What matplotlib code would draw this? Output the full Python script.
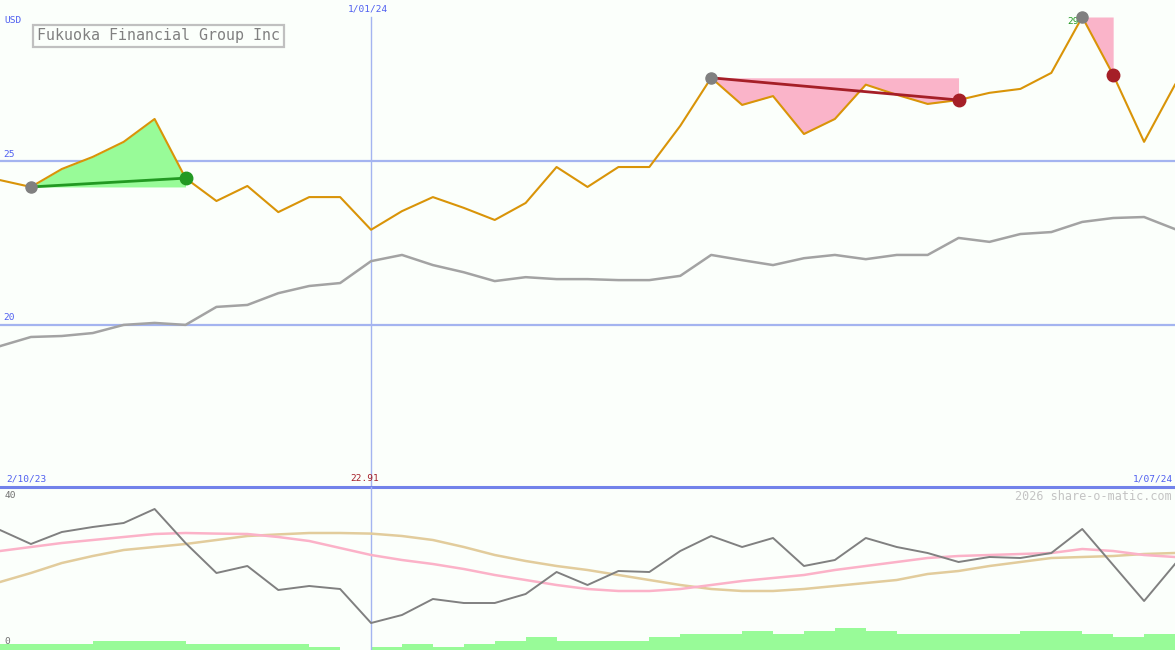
import numpy as np
import matplotlib
matplotlib.use("Agg")
import matplotlib.pyplot as plt

# weekly closing price (USD) and its moving average
price = [24.43, 24.22, 24.77, 25.14, 25.60, 26.30, 24.49, 23.79, 24.25, 23.45,
         23.91, 23.91, 22.91, 23.48, 23.91, 23.58, 23.21, 23.73, 24.83, 24.22,
         24.83, 24.83, 26.09, 27.56, 26.73, 27.00, 25.84, 26.30, 27.35, 27.04,
         26.76, 26.88, 27.10, 27.22, 27.71, 29.42, 27.65, 25.60, 27.35]
avg = [19.35, 19.63, 19.66, 19.75, 20.00, 20.06, 20.00, 20.55, 20.61, 20.97,
       21.19, 21.28, 21.95, 22.14, 21.83, 21.61, 21.34, 21.46, 21.40, 21.40,
       21.37, 21.37, 21.50, 22.14, 21.98, 21.83, 22.04, 22.14, 22.01, 22.14,
       22.14, 22.66, 22.54, 22.78, 22.84, 23.15, 23.27, 23.30, 22.93]

# lower panel: oscillator and two smoothed lines
osc = [30, 26.5, 29.5, 30.75, 31.75, 35.25, 26.75, 19.25, 21, 15,
       16, 15.25, 6.75, 8.75, 12.75, 11.75, 11.75, 14, 19.5, 16.25,
       19.75, 19.5, 24.75, 28.5, 25.75, 28, 21, 22.5, 28, 25.75,
       24.25, 22, 23.25, 23, 24.25, 30.25, 21.25, 12.25, 21.5]
osc_fast = [24.75, 25.75, 26.75, 27.5, 28.25, 29, 29.25, 29.1, 29, 28.25,
            27.25, 25.5, 23.75, 22.5, 21.5, 20.25, 18.75, 17.5, 16.25, 15.25,
            14.75, 14.75, 15.25, 16.25, 17.25, 18, 18.75, 20, 21, 22,
            23, 23.5, 23.75, 24, 24.25, 25.25, 24.75, 23.75, 23.25]
osc_slow = [17, 19.25, 21.75, 23.5, 25, 25.75, 26.5, 27.5, 28.5, 28.9,
            29.25, 29.25, 29.1, 28.5, 27.5, 25.75, 23.75, 22.25, 21, 20,
            18.75, 17.5, 16.25, 15.25, 14.75, 14.75, 15.25, 16, 16.75, 17.5,
            19, 19.75, 21, 22, 23, 23.25, 23.5, 24, 24.25]
volume = [2, 2, 2, 3, 3, 3, 2, 2, 2, 2, 1, 0, 1, 2, 1, 2, 3, 4, 3, 3,
          3, 4, 5, 5, 6, 5, 6, 7, 6, 5, 5, 5, 5, 6, 6, 5, 4, 5]

# signal segments (start index, end index)
buy = (1, 6)
sells = [(23, 31), (35, 36)]
mark_idx = 12

x = np.arange(len(price))
bg = "#fbfffb"
blue_txt = "#4f5ff0"
grid_c = "#a4b4f0"
mono = "DejaVu Sans Mono"

fig = plt.figure(figsize=(11.75, 6.5), dpi=100, facecolor=bg)
ax = fig.add_axes([0, 163 / 650, 1, 487 / 650])
ax2 = fig.add_axes([0, 0, 1, 163 / 650])
for a in (ax, ax2):
    a.set_facecolor(bg)
    a.set_xlim(0, len(price) - 1)
    a.axis("off")

ax.set_ylim(15.04, 29.94)
ax2.set_ylim(0, 40.75)

# grid
for lv in (20, 25):
    ax.axhline(lv, color=grid_c, lw=1.6, zorder=1)
    ax.text(0.12, lv + 0.08, str(lv), color=blue_txt, fontsize=6.8,
            family=mono, va="bottom")
ax.axvline(mark_idx, ymin=0, ymax=(487 - 17) / 487, color=grid_c, lw=1, zorder=1)
ax2.axvline(mark_idx, color=grid_c, lw=1, zorder=1)

# buy segment
b0, b1 = buy
xs = x[b0:b1 + 1]
ax.fill_between(xs, price[b0], price[b0:b1 + 1], color="#98fb98", lw=0, zorder=2)
ax.plot([b0, b1], [price[b0], price[b1]], color="#229922", lw=2, zorder=4)

# sell segments
for s0, s1 in sells:
    xs = x[s0:s1 + 1]
    ax.fill_between(xs, price[s0], price[s0:s1 + 1], color="#fab4c9", lw=0, zorder=2)
    if s1 - s0 > 1:
        ax.plot([s0, s1], [price[s0], price[s1]], color="#a51f27", lw=2, zorder=4)

ax.plot(x, avg, color="#a3a3a3", lw=1.8, zorder=3)
ax.plot(x, price, color="#d99408", lw=1.5, zorder=3)

# markers
ax.plot(b0, price[b0], "o", color="#808080", ms=8, zorder=5)
ax.plot(b1, price[b1], "o", color="#229922", ms=9, zorder=5)
for s0, s1 in sells:
    ax.plot(s0, price[s0], "o", color="#808080", ms=8, zorder=5)
    ax.plot(s1, price[s1], "o", color="#a51f27", ms=9, zorder=5)

ax.text(35 - 0.1, 29.28, "29", color="#229922", fontsize=6.8, family=mono,
        ha="right", va="center")

# labels
ax.text(0.15, 29.30, "USD", color=blue_txt, fontsize=6.8, family=mono, va="center")
ax.text(mark_idx - 0.1, 29.65, "1/01/24", color=blue_txt, fontsize=6.8,
        family=mono, ha="center", va="center")
ax.text(0.2, 15.15, "2/10/23", color=blue_txt, fontsize=6.8, family=mono, va="bottom")
ax.text(37.95, 15.15, "1/07/24", color=blue_txt, fontsize=6.8, family=mono,
        ha="right", va="bottom")
ax.text(mark_idx - 0.2, 15.15, "%.2f" % price[mark_idx], color="#a51f27",
        fontsize=6.8, family=mono, ha="center", va="bottom")
ax.text(1.2, 28.84, "Fukuoka Financial Group Inc", color="#808080", fontsize=10.85,
        family=mono, va="center",
        bbox=dict(boxstyle="square,pad=0.25", fc=bg, ec="#c0c0c0", lw=1.6))

ax.axhline(15.04, color="#7282ea", lw=2.2, clip_on=False, zorder=6)

# lower panel
ax2v = ax2.twinx()
ax2v.set_ylim(0, 52)
ax2v.axis("off")
ax2v.bar(x[:-1], volume, width=1, align="edge", color="#98fb98", lw=0, zorder=1)
ax2.set_zorder(ax2v.get_zorder() + 1)
ax2.patch.set_visible(False)
ax2v.patch.set_facecolor(bg)

ax2.plot(x, osc_slow, color="#e2cc9c", lw=1.8, zorder=3)
ax2.plot(x, osc_fast, color="#fbb2c8", lw=1.8, zorder=3)
ax2.plot(x, osc, color="#808080", lw=1.4, zorder=4)
ax2.text(0.15, 38.5, "40", color="#707070", fontsize=6.8, family=mono, va="center")
ax2.text(0.15, 2.0, "0", color="#707070", fontsize=6.8, family=mono, va="center")
ax2.text(37.9, 38.5, "2026 share-o-matic.com", color="#c4c4c4", fontsize=8.5,
         family=mono, ha="right", va="center")

fig.savefig("out.png", dpi=100, facecolor=bg)
